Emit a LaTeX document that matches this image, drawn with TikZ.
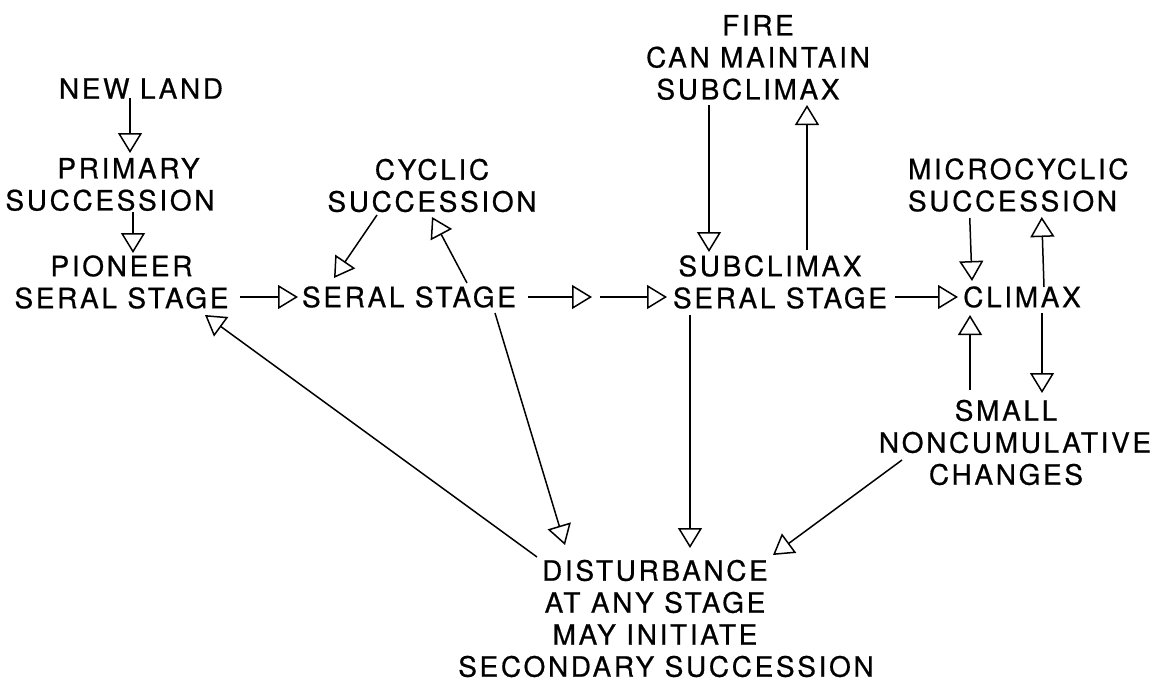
\documentclass[tikz,border=0pt]{standalone}
\usepackage{fontspec}
\setmainfont{TeX Gyre Heros}[LetterSpace=9.5, FakeBold=0.6]
\usetikzlibrary{arrows.meta}
\tikzset{
  lbl/.style={inner sep=0pt, outer sep=0pt, align=center, font=\fontsize{28}{32}\selectfont},
  arr/.style={draw=black, line width=1.5pt, -{Triangle[open, length=20pt, width=24pt, line width=1.5pt]}}
}
\begin{document}
\begin{tikzpicture}[x=1pt, y=-1pt]
\fill[white] (0,0) rectangle (1165,683);
\useasboundingbox (0,0) rectangle (1165,683);

\node[lbl] (newland) at (141,88.5) {NEW LAND};
\node[lbl] (primary) at (110,184.5) {\mbox{\kern37pt PRIMARY}\\SUCCESSION};
\node[lbl] (pioneer) at (121.5,282) {PIONEER\\SERAL STAGE};
\node[lbl] (seral) at (409,297) {SERAL STAGE};
\node[lbl] (cyclic) at (432,185.5) {CYCLIC\\SUCCESSION};
\node[lbl] (sub) at (780,282) {\mbox{SUBCLIMAX\kern20pt}\\SERAL STAGE};
\node[lbl] (fire) at (758,57.5) {FIRE\\CAN MAINTAIN\\\mbox{SUBCLIMAX\kern20pt}};
\node[lbl] (climax) at (1022,297) {CLIMAX};
\node[lbl, align=left, anchor=west] (micro) at (908,185) {MICROCYCLIC\\SUCCESSION};
\node[lbl] (small) at (1015,442.5) {\mbox{SMALL\kern18pt}\\NONCUMULATIVE\\\mbox{CHANGES\kern18pt}};
\node[lbl] (dist) at (666,618.5) {\mbox{DISTURBANCE\kern22pt}\\\mbox{AT ANY STAGE\kern22pt}\\\mbox{MAY INITIATE\kern22pt}\\SECONDARY SUCCESSION};
\coordinate (mid) at (596,297);

\draw[arr] ([shift={(-11,9.5)}]newland.center) -- ([shift={(20,-31.5)}]primary.center);
\draw[arr] ([shift={(23,27.5)}]primary.center) -- ([shift={(11.5,-29)}]pioneer.center);
\draw[arr] ([shift={(118.5,15)}]pioneer.center) -- ([shift={(-111,0)}]seral.center);
\draw[arr] ([shift={(119,0)}]seral.center) -- ([shift={(-4,0)}]mid);
\draw[arr] ([shift={(4,0)}]mid) -- ([shift={(-113,15)}]sub.center);
\draw[arr] ([shift={(115,15)}]sub.center) -- ([shift={(-64,0)}]climax.center);
\draw[arr] ([shift={(-55,29.5)}]cyclic.center) -- ([shift={(-75,-19)}]seral.center);
\draw[arr] ([shift={(58,-14)}]seral.center) -- ([shift={(0,31.5)}]cyclic.center);
\draw[arr] ([shift={(86,16)}]seral.center) -- ([shift={(-101,-73.5)}]dist.center);
\draw[arr] ([shift={(-129,-61.5)}]dist.center) -- ([shift={(83.5,33)}]pioneer.center);
\draw[arr] ([shift={(-90,33)}]sub.center) -- ([shift={(24,-70.5)}]dist.center);
\draw[arr] ([shift={(-113,17.5)}]small.center) -- ([shift={(107,-63.5)}]dist.center);
\draw[arr] ([shift={(-49,47.5)}]fire.center) -- ([shift={(-71,-30)}]sub.center);
\draw[arr] ([shift={(27,-32)}]sub.center) -- ([shift={(49,47.5)}]fire.center);
\draw[arr] ([shift={(-48.5,33)}]micro.center) -- ([shift={(-50,-16)}]climax.center);
\draw[arr] ([shift={(22,-10)}]climax.center) -- ([shift={(23.5,32)}]micro.center);
\draw[arr] ([shift={(-45,-52.5)}]small.center) -- ([shift={(-52,18)}]climax.center);
\draw[arr] ([shift={(20,16)}]climax.center) -- ([shift={(27,-49.5)}]small.center);
\end{tikzpicture}
\end{document}
